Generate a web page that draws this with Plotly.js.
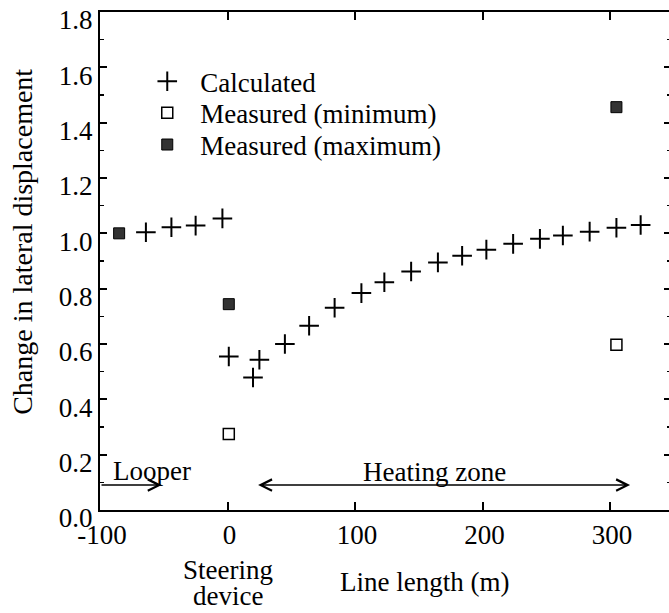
<!DOCTYPE html>
<html>
<head>
<meta charset="utf-8">
<script src="https://cdn.plot.ly/plotly-3.0.1.min.js"></script>
<style>
html,body{margin:0;padding:0;background:#fff;overflow:hidden;width:669px;height:613px;}
#chart{width:672px;height:613px;}
</style>
</head>
<body>
<div id="chart"></div>
<script>
// Calculated change in lateral displacement
const calcX = [-64, -44, -25, -4, 1, 20, 25, 45, 64, 84, 105, 123, 144, 165, 184, 203, 224, 245, 263, 284, 305, 324];
const calcY = [1.004, 1.022, 1.028, 1.054, 0.555, 0.479, 0.543, 0.600, 0.666, 0.731, 0.784, 0.823, 0.862, 0.895, 0.919, 0.941, 0.962, 0.980, 0.992, 1.006, 1.020, 1.030];
// Measured (minimum)
const minX = [1, 305];
const minY = [0.275, 0.597];
// Measured (maximum)
const maxX = [-85, 1, 305];
const maxY = [1.0, 0.744, 1.456];
// Tick labels
const xTicks = [-100, 0, 100, 200, 300];
const xTickText = ['-100', '0', '100', '200', '300'];
const yTicks = [0, 0.2, 0.4, 0.6, 0.8, 1.0, 1.2, 1.4, 1.6, 1.8];
const yTickText = ['0.0', '0.2', '0.4', '0.6', '0.8', '1.0', '1.2', '1.4', '1.6', '1.8'];
const seriesNames = ['Calculated', 'Measured (minimum)', 'Measured (maximum)'];

const FONT = 'Liberation Serif, Times New Roman, serif';

const traces = [
  {x: calcX, y: calcY, type: 'scatter', mode: 'markers', name: seriesNames[0], legend: 'legend',
   marker: {symbol: 'cross-thin', size: 14, color: '#000', line: {color: '#000', width: 2}}},
  {x: minX, y: minY, type: 'scatter', mode: 'markers', name: seriesNames[1], legend: 'legend2',
   marker: {symbol: 'square-open', size: 11, color: '#000', line: {color: '#000', width: 1.5}}},
  {x: maxX, y: maxY, type: 'scatter', mode: 'markers', name: seriesNames[2], legend: 'legend3',
   marker: {symbol: 'square', size: 11, color: '#333', line: {color: '#000', width: 1}}}
];

const legBase = {xanchor: 'left', yanchor: 'middle', bgcolor: 'rgba(0,0,0,0)', borderwidth: 0,
  font: {family: FONT, size: 27, color: '#000'}, itemwidth: 56};

const txt = {family: FONT, size: 27, color: '#000'};

const layout = {
  width: 672, height: 613,
  margin: {l: 100, r: 1, t: 12, b: 103},
  paper_bgcolor: '#fff', plot_bgcolor: '#fff',
  font: txt,
  showlegend: true,
  legend: Object.assign({}, legBase, {x: 0.06, y: 0.860}),
  legend2: Object.assign({}, legBase, {x: 0.06, y: 0.797}),
  legend3: Object.assign({}, legBase, {x: 0.06, y: 0.733}),
  xaxis: {
    range: [-100, 347.8], showgrid: false, zeroline: false,
    showline: true, linecolor: '#000', linewidth: 2, mirror: 'allticks',
    ticks: 'inside', ticklen: 8, tickwidth: 2, tickcolor: '#000',
    tickvals: xTicks, ticktext: xTickText, ticklabelshift: 2, ticklabeloverflow: 'allow',
    tickfont: txt
  },
  yaxis: {
    range: [0, 1.8], showgrid: false, zeroline: false,
    showline: true, linecolor: '#000', linewidth: 2, mirror: 'allticks',
    ticks: 'inside', ticklen: 7, tickwidth: 2, tickcolor: '#000',
    tickvals: yTicks, ticktext: yTickText, ticklabelshift: 8, ticklabeloverflow: 'allow',
    tickfont: txt,
    minor: {dtick: 0.1, ticks: 'inside', ticklen: 4, tickwidth: 1.5, tickcolor: '#000', showgrid: false}
  },
  annotations: [
    {xref: 'paper', yref: 'paper', x: -0.137, y: 0.538, text: 'Change in lateral displacement', textangle: -90,
     showarrow: false, xanchor: 'center', yanchor: 'middle', font: {family: FONT, size: 28, color: '#000'}},
    {xref: 'paper', yref: 'paper', x: 0.569, y: -0.1445, text: 'Line length (m)',
     showarrow: false, xanchor: 'center', yanchor: 'middle', font: txt},
    {xref: 'x', yref: 'paper', x: 0, y: -0.1214, text: 'Steering',
     showarrow: false, xanchor: 'center', yanchor: 'middle', font: txt},
    {xref: 'x', yref: 'paper', x: 0, y: -0.1736, text: 'device',
     showarrow: false, xanchor: 'center', yanchor: 'middle', font: txt},
    {xref: 'x', yref: 'y', x: -59.5, y: 0.14, text: 'Looper',
     showarrow: false, xanchor: 'center', yanchor: 'middle', font: txt},
    {xref: 'x', yref: 'y', x: 162.7, y: 0.137, text: 'Heating zone',
     showarrow: false, xanchor: 'center', yanchor: 'middle', font: txt},
    {xref: 'x', yref: 'y', axref: 'x', ayref: 'y', x: -51.6, y: 0.09, ax: -100, ay: 0.09, text: '',
     showarrow: true, arrowhead: 5, arrowsize: 1.5, arrowwidth: 1.5, arrowcolor: '#000', standoff: 0, startstandoff: 0},
    {xref: 'x', yref: 'y', axref: 'x', ayref: 'y', x: 315.7, y: 0.09, ax: 22.8, ay: 0.09, text: '',
     showarrow: true, arrowhead: 5, startarrowhead: 5, arrowside: 'end+start', arrowsize: 1.5, startarrowsize: 1.5,
     arrowwidth: 1.5, arrowcolor: '#000', standoff: 0, startstandoff: 0}
  ]
};

Plotly.newPlot('chart', traces, layout, {displayModeBar: false, staticPlot: true});
</script>
</body>
</html>
